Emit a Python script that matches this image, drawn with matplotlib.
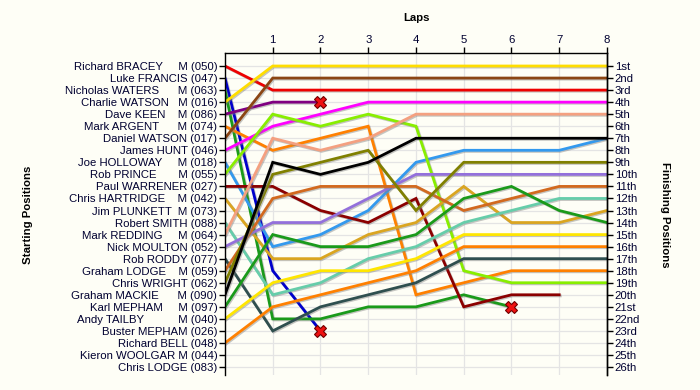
import matplotlib
matplotlib.use("Agg")
import matplotlib.pyplot as plt
import matplotlib.patheffects as pe

# ---------------- data ----------------
start_names = ["Richard BRACEY", "Luke FRANCIS", "Nicholas WATERS", "Charlie WATSON",
               "Dave KEEN", "Mark ARGENT", "Daniel WATSON", "James HUNT", "Joe HOLLOWAY",
               "Rob PRINCE", "Paul WARRENER", "Chris HARTRIDGE", "Jim PLUNKETT",
               "Robert SMITH", "Mark REDDING", "Nick MOULTON", "Rob RODDY", "Graham LODGE",
               "Chris WRIGHT", "Graham MACKIE", "Karl MEPHAM", "Andy TAILBY",
               "Buster MEPHAM", "Richard BELL", "Kieron WOOLGAR", "Chris LODGE"]
member = [True, False, True, True, True, True, False, False, True, True, False, True, True,
          False, True, False, False, True, False, True, True, True, False, False, True, False]
car_numbers = ["050", "047", "063", "016", "086", "074", "017", "046", "018", "055", "027",
               "042", "073", "088", "064", "052", "077", "059", "062", "090", "097", "040",
               "026", "048", "044", "083"]
name_gaps = [5, 1, 6, 3, 4, 6, 1, 1, 5, 7, 1, 4, 2, 1, 5, 1, 1, 4, 1, 6, 5, 11, 1, 1, 1, 1]

finish_labels = ["1st", "2nd", "3rd", "4th", "5th", "6th", "7th", "8th", "9th", "10th",
                 "11th", "12th", "13th", "14th", "15th", "16th", "17th", "18th", "19th",
                 "20th", "21st", "22nd", "23rd", "24th", "25th", "26th"]
lap_numbers = [0, 1, 2, 3, 4, 5, 6, 7, 8]
lap_ticks = [1, 2, 3, 4, 5, 6, 7, 8]

# position at each lap (index = starting position - 1)
race_positions = [
    [1, 3, 3, 3, 3, 3, 3, 3, 3],          # Richard BRACEY
    [2, 18, 23],                          # Luke FRANCIS (retired)
    [3, 22, 22, 21, 21, 20, 21],          # Nicholas WATERS (retired)
    [4, 1, 1, 1, 1, 1, 1, 1, 1],          # Charlie WATSON
    [5, 4, 4],                            # Dave KEEN (retired)
    [6, 8, 7, 6, 20, 19, 18, 18, 18],     # Mark ARGENT
    [7, 2, 2, 2, 2, 2, 2, 2, 2],          # Daniel WATSON
    [8, 6, 5, 4, 4, 4, 4, 4, 4],          # James HUNT
    [9, 16, 15, 13, 9, 8, 8, 8, 7],       # Joe HOLLOWAY
    [10, 5, 6, 5, 6, 18, 19, 19, 19],     # Rob PRINCE
    [11, 11, 13, 14, 12, 21, 20, 20],     # Paul WARRENER
    [12, 17, 17, 15, 14, 11, 14, 14, 13], # Chris HARTRIDGE
    [],                                   # Jim PLUNKETT
    [14, 20, 19, 17, 16, 14, 13, 12, 12], # Robert SMITH
    [15, 7, 8, 7, 5, 5, 5, 5, 5],         # Mark REDDING
    [16, 14, 14, 12, 10, 10, 10, 10, 10], # Nick MOULTON
    [17, 23, 21, 20, 19, 17, 17, 17, 17], # Rob RODDY
    [18, 12, 11, 11, 11, 13, 12, 11, 11], # Graham LODGE
    [19, 10, 9, 8, 13, 9, 9, 9, 9],       # Chris WRIGHT
    [20, 9, 10, 9, 7, 7, 7, 7, 7],        # Graham MACKIE
    [21, 15, 16, 16, 15, 12, 11, 13, 14], # Karl MEPHAM
    [22, 19, 18, 18, 17, 15, 15, 15, 15], # Andy TAILBY
    [],                                   # Buster MEPHAM
    [24, 21, 20, 19, 18, 16, 16, 16, 16], # Richard BELL
    [],                                   # Kieron WOOLGAR
    [],                                   # Chris LODGE
]
retired = [False, True, True, False, True, False, False, False, False, False, False, False,
           False, False, False, False, False, False, False, False, False, False, False,
           False, False, False]
line_colors = ["#EE0000", "#0000CC", "#1A9A1A", "#FFDD00", "#800080", "#FF8000", "#8B4513",
               "#FF00FF", "#3399EE", "#88EE00", "#8B0000", "#DAA520", "#999999", "#66CDAA",
               "#F4A080", "#9370DB", "#2F4F4F", "#D2691E", "#808000", "#000000", "#1A9A1A",
               "#FFE600", "#999999", "#FF8000", "#999999", "#999999"]

# ---------------- figure ----------------
bg = "#FEFEF6"
txt = "#000030"
plt.rcParams["font.family"] = ["Liberation Sans", "DejaVu Sans"]

fig = plt.figure(figsize=(7.0, 3.9), dpi=100, facecolor=bg)
ax = fig.add_axes([0.3214, 0.0385, 0.5457, 0.8256], facecolor=bg)

n = len(start_names)
ylim = (26.66, -0.08)
ax.set_xlim(0, 8)
ax.set_ylim(*ylim)

# grid
for p in range(1, n + 1):
    ax.axhline(p, color="#E4E4E4", lw=0.9, zorder=0)
for lp in lap_ticks[:-1]:
    ax.axvline(lp, color="#E4E4E4", lw=0.9, zorder=0)

shadow = [pe.SimpleLineShadow(offset=(0.8, -0.8), shadow_color="#808080", alpha=0.45),
          pe.Normal()]

for i in range(n):
    pos = race_positions[i]
    if not pos:
        continue
    xs = lap_numbers[:len(pos)]
    ax.plot(xs, pos, color=line_colors[i], lw=2.0, solid_joinstyle="miter",
            path_effects=shadow, zorder=2)
    if retired[i]:
        ax.plot(xs[-1], pos[-1], marker="X", ms=9, color="#EE1111",
                markeredgecolor="#700000", markeredgewidth=0.8, zorder=5)

# spines
for s in ["bottom"]:
    ax.spines[s].set_visible(False)
for s in ["left", "top", "right"]:
    ax.spines[s].set_color("black")
    ax.spines[s].set_linewidth(1.0)

# left tick labels
left_labels = []
for i in range(n):
    if member[i]:
        left_labels.append(start_names[i] + " " * name_gaps[i] + "M (" + car_numbers[i] + ")")
    else:
        left_labels.append(start_names[i] + " (" + car_numbers[i] + ")")
ax.set_yticks(range(1, n + 1))
ax.set_yticklabels(left_labels, fontsize=8.2, color=txt)
ax.tick_params(axis="y", direction="out", length=4, width=1, pad=1.5, colors="black",
               labelcolor=txt)

# top ticks
ax.xaxis.tick_top()
ax.set_xticks(lap_ticks)
ax.set_xticklabels([str(v) for v in lap_ticks], fontsize=8.2, color=txt)
ax.tick_params(axis="x", direction="out", length=4, width=1, pad=2, labelcolor=txt)

# right axis
ax2 = ax.twinx()
ax2.set_ylim(*ylim)
ax2.set_yticks(range(1, n + 1))
ax2.set_yticklabels(finish_labels, fontsize=8.2, color=txt)
ax2.tick_params(axis="y", direction="out", length=4, width=1, pad=1.5, labelcolor=txt)
for s in ["bottom", "left", "top"]:
    ax2.spines[s].set_visible(False)
ax2.spines["right"].set_linewidth(1.0)

# axis titles
fig.text(416 / 700, 1 - 18 / 390, "Laps", ha="center", va="center", fontsize=8.2,
         fontweight="bold", color="black")
fig.text(28 / 700, 1 - 215 / 390, "Starting Positions", ha="center", va="center",
         rotation=90, fontsize=8.2, fontweight="bold", color="black")
fig.text(665 / 700, 1 - 215 / 390, "Finishing Positions", ha="center", va="center",
         rotation=-90, fontsize=8.2, fontweight="bold", color="black")

fig.savefig("out.png", dpi=100, facecolor=bg)
